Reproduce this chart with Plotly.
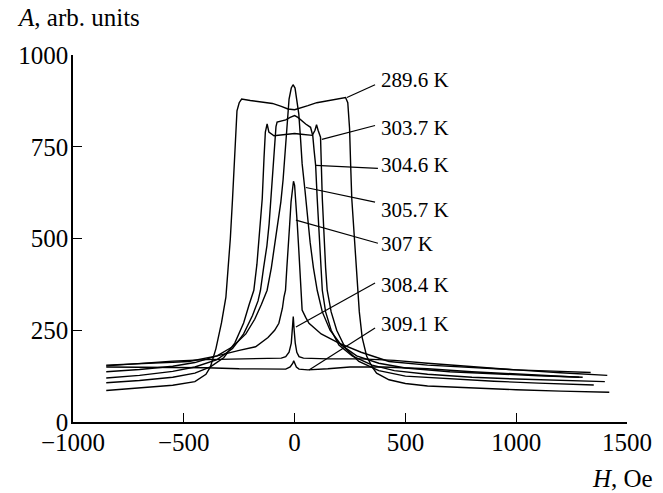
import plotly.graph_objects as go

# ---- data (H in Oe, A in arb. units) ----
labels = ["289.6 K", "303.7 K", "304.6 K", "305.7 K", "307 K", "308.4 K", "309.1 K"]

h_2896 = [-850, -700, -550, -450, -400, -380, -355, -330, -310, -300, -290, -280, -268, -260, -250, -239,
          -200, -150, -100, -60, -30, 0, 30, 60, 100, 150, 200, 230, 240, 248, 253, 258, 270, 282, 292, 305,
          325, 350, 370, 426, 500, 600, 800, 1000, 1200, 1420]
a_2896 = [86, 92, 100, 110, 130, 150, 200, 270, 340, 420, 500, 609, 750, 848, 870, 880,
          876, 872, 868, 860, 853, 851, 856, 862, 870, 876, 880, 884, 870, 800, 700, 609, 500, 400, 300, 230,
          180, 150, 133, 115, 105, 98, 92, 88, 84, 81]

h_3037 = [-850, -700, -550, -450, -380, -320, -270, -230, -205, -184, -170, -158, -146, -138, -132, -124,
          -116, -93, -60, -30, 0, 30, 60, 80, 92, 99, 106, 117, 125, 133, 140, 147, 165, 190, 230, 290,
          380, 500, 700, 900, 1100, 1350]
a_3037 = [107, 113, 122, 133, 150, 175, 215, 270, 320, 359, 430, 520, 609, 720, 790, 812,
          790, 780, 782, 785, 786, 784, 782, 781, 795, 810, 795, 776, 609, 500, 420, 359, 300, 250, 200, 165,
          140, 125, 117, 111, 106, 101]

h_3046 = [-850, -700, -550, -450, -350, -280, -230, -190, -165, -154, -140, -125, -115, -108, -102, -96,
          -90, -84, -79, -60, -40, -20, 0, 15, 30, 50, 72, 82, 88, 95, 102, 110, 118, 125, 140, 165, 200,
          260, 350, 450, 600, 800, 1000, 1200, 1400]
a_3046 = [120, 127, 138, 150, 170, 200, 240, 290, 330, 359, 420, 480, 540, 600, 660, 720,
          770, 805, 817, 820, 823, 830, 835, 830, 822, 812, 803, 780, 740, 699, 609, 520, 430, 359, 300, 250, 210,
          180, 155, 140, 130, 122, 117, 113, 110]

h_3057 = [-850, -700, -550, -450, -350, -280, -220, -180, -150, -124, -105, -90, -75, -62, -52, -45, -38,
          -33, -25, -15, -7, 2, 10, 19, 27, 34, 47, 58, 70, 85, 102, 125, 160, 210, 280, 380, 500, 700, 900,
          1100, 1300]
a_3057 = [137, 143, 152, 162, 180, 205, 240, 280, 320, 359, 420, 480, 540, 600, 660, 720, 790,
          839, 880, 910, 919, 910, 880, 839, 770, 704, 630, 560, 490, 420, 359, 300, 250, 210, 180, 160, 147, 137, 131,
          126, 122]

h_307 = [-850, -700, -550, -477, -350, -250, -176, -120, -90, -71, -55, -48, -41, -35, -29, -22, -16, -10,
         -5, 0, 6, 12, 19, 24, 27, 34, 50, 65, 120, 200, 300, 426, 600, 800, 1000, 1200, 1336]
a_307 = [155, 160, 163, 165, 180, 195, 205, 230, 250, 269, 310, 340, 359, 420, 468, 540, 600, 640,
         656, 645, 600, 540, 468, 420, 359, 305, 285, 269, 240, 215, 190, 165, 155, 148, 142, 138, 135]

h_3084 = [-850, -700, -550, -400, -200, -60, -40, -25, -15, -10, -6, -2, 3, 10, 20, 40, 150, 300, 450,
          600, 800, 1000, 1200, 1411]
a_3084 = [153, 160, 166, 170, 172, 174, 178, 190, 215, 245, 287, 250, 215, 190, 178, 174, 172, 172, 168,
          160, 150, 142, 134, 127]

h_3091 = [-850, -700, -550, -400, -250, -100, -40, -20, -8, -4, 0, 8, 20, 60, 150, 250, 400, 600, 800,
          1000, 1200, 1284]
a_3091 = [150, 150, 150, 148, 145, 143, 144, 150, 160, 167, 160, 150, 144, 142, 145, 150, 150, 145, 137,
          130, 125, 122]

curves_h = [h_2896, h_3037, h_3046, h_3057, h_307, h_3084, h_3091]
curves_a = [a_2896, a_3037, a_3046, a_3057, a_307, a_3084, a_3091]

# leader lines: start on curve (H, A) -> end near label (H, A); label anchor (H, A)
lead_h0 = [236, 123, 96, 51, 6, 6, 65]
lead_a0 = [884, 770, 699, 639, 550, 259, 142]
lead_h1 = [363, 363, 376, 363, 376, 363, 363]
lead_a1 = [919, 808, 691, 599, 487, 379, 256]
label_h = [381, 381, 381, 381, 381, 381, 381]
label_a = [931, 802, 701, 578, 484, 373, 267]

x_ticks = [-1000, -500, 0, 500, 1000, 1500]
y_ticks = [0, 250, 500, 750, 1000]

SERIF = "Liberation Serif"

fig = go.Figure()
for lab, hh, aa in zip(labels, curves_h, curves_a):
    fig.add_trace(go.Scatter(x=hh, y=aa, mode="lines", name=lab,
                             line=dict(color="black", width=1.4), showlegend=False,
                             hoverinfo="skip"))

shapes = []
annotations = []
for i, lab in enumerate(labels):
    shapes.append(dict(type="line", xref="x", yref="y", x0=lead_h0[i], y0=lead_a0[i],
                       x1=lead_h1[i], y1=lead_a1[i], line=dict(color="black", width=1.2)))
    annotations.append(dict(x=label_h[i], y=label_a[i], xref="x", yref="y", text=lab,
                            showarrow=False, xanchor="left", yanchor="middle",
                            font=dict(family=SERIF, size=21, color="black")))

annotations.append(dict(x=-0.105, y=1.101, xref="paper", yref="paper", text="<i>A</i>, arb. units",
                        showarrow=False, xanchor="left", yanchor="middle",
                        font=dict(family=SERIF, size=25, color="black")))
annotations.append(dict(x=1.0505, y=-0.1526, xref="paper", yref="paper", text="<i>H</i>, Oe",
                        showarrow=False, xanchor="right", yanchor="middle",
                        font=dict(family=SERIF, size=25, color="black")))

fig.update_layout(
    width=663, height=493,
    margin=dict(l=73, r=36, t=55, b=71),
    paper_bgcolor="white", plot_bgcolor="white",
    shapes=shapes, annotations=annotations,
    xaxis=dict(range=[-1000, 1500], tickvals=x_ticks, ticks="inside", ticklen=9, tickwidth=1.3,
               tickcolor="black", showline=True, linecolor="black", linewidth=1.5,
               showgrid=False, zeroline=False, ticklabelstandoff=-3,
               tickfont=dict(family=SERIF, size=25, color="black")),
    yaxis=dict(range=[0, 1000], tickvals=y_ticks, ticks="inside", ticklen=9, tickwidth=1.3,
               tickcolor="black", showline=True, linecolor="black", linewidth=1.5,
               showgrid=False, zeroline=False, ticklabelstandoff=-2,
               tickfont=dict(family=SERIF, size=25, color="black")),
)

fig.write_html("out.html")
